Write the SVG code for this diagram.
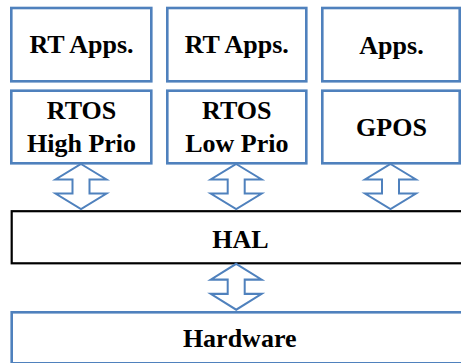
<svg xmlns="http://www.w3.org/2000/svg" width="461" height="363" viewBox="0 0 461 363">
  <style>
    .box { fill: #ffffff; stroke: #4f81bd; stroke-width: 2.6; }
    .hal { fill: #ffffff; stroke: #000000; stroke-width: 2.2; }
    .arrow { fill: #ffffff; stroke: #4f81bd; stroke-width: 2; stroke-linejoin: miter; }
    .label { font-family: "Times New Roman", Tinos, "Noto Serif", "FreeSerif", Georgia, "Liberation Serif", serif; font-weight: 700; font-size: 26px; fill: #000000; text-anchor: middle; }
  </style>
  <defs>
    <!-- double-headed block arrow, centred on x=0, 45px tall -->
    <polygon id="dblArrow" points="0,0 25.5,15.5 8.5,15.5 8.5,29.5 25.5,29.5 0,45 -25.5,29.5 -8.5,29.5 -8.5,15.5 -25.5,15.5"/>
  </defs>
  <rect width="461" height="363" fill="#ffffff"/>

  <!-- application layer -->
  <g id="rt-apps-1">
    <rect class="box" x="11.3" y="8" width="140" height="73.3"/>
    <text class="label" x="81.5" y="53.3">RT Apps.</text>
  </g>
  <g id="rt-apps-2">
    <rect class="box" x="167.3" y="8" width="139" height="73.3"/>
    <text class="label" x="236.8" y="53.3">RT Apps.</text>
  </g>
  <g id="apps">
    <rect class="box" x="322.3" y="8" width="137.4" height="73.3"/>
    <text class="label" x="391.5" y="53.8">Apps.</text>
  </g>

  <!-- operating systems -->
  <g id="rtos-high">
    <rect class="box" x="11.3" y="90.7" width="140" height="72.6"/>
    <text class="label" x="81.5" y="119.3">RTOS</text>
    <text class="label" x="81.5" y="151.5">High Prio</text>
  </g>
  <g id="rtos-low">
    <rect class="box" x="167.3" y="90.7" width="139" height="72.6"/>
    <text class="label" x="236.8" y="119.3">RTOS</text>
    <text class="label" x="236.8" y="151.5">Low Prio</text>
  </g>
  <g id="gpos">
    <rect class="box" x="322.3" y="90.7" width="137.4" height="72.6"/>
    <text class="label" x="391.5" y="136">GPOS</text>
  </g>

  <!-- abstraction layer -->
  <g id="hal">
    <rect class="hal" x="11.7" y="211.2" width="470" height="52.1"/>
    <text class="label" x="240.5" y="247.7">HAL</text>
  </g>

  <!-- hardware -->
  <g id="hardware">
    <rect class="box" x="11.7" y="312.3" width="470" height="51"/>
    <text class="label" x="239.7" y="346.7">Hardware</text>
  </g>

  <!-- connectors -->
  <g id="connectors">
    <use href="#dblArrow" class="arrow" transform="translate(81,164)"/>
    <use href="#dblArrow" class="arrow" transform="translate(236.2,164)"/>
    <use href="#dblArrow" class="arrow" transform="translate(390.5,164)"/>
    <use href="#dblArrow" class="arrow" transform="translate(236.2,263.8) scale(1,1.02)"/>
  </g>
</svg>
